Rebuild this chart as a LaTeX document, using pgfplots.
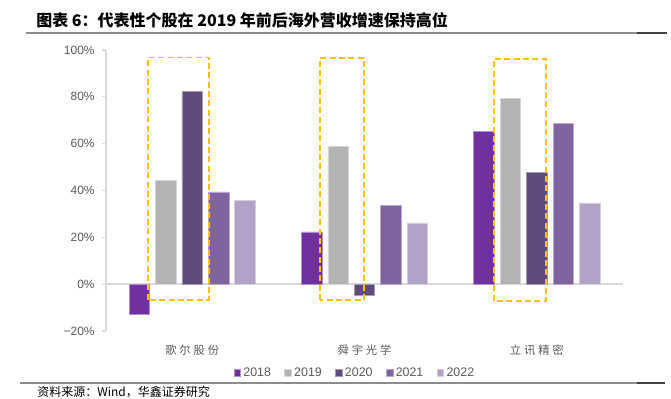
\documentclass[border=0pt]{standalone}
\usepackage{pgfplots}
\pgfplotsset{compat=1.18}
\usepackage{fontspec}
\setmainfont{Liberation Sans}
\newfontfamily\cjk{Noto Sans CJK SC}
\newfontfamily\cjklab[LetterSpace=25]{Noto Sans CJK SC}
\definecolor{cA}{HTML}{7030A0}
\definecolor{cB}{HTML}{B3B3B3}
\definecolor{cC}{HTML}{604A7B}
\definecolor{cD}{HTML}{8064A2}
\definecolor{cE}{HTML}{B3A2C7}
\definecolor{txt}{HTML}{595959}
\definecolor{axl}{HTML}{D9D9D9}
\definecolor{orn}{HTML}{FFC000}
\begin{document}
\begin{tikzpicture}
\begin{scope}[x=0.75pt,y=0.75pt]
\path[use as bounding box] (0,0) rectangle (671,399);
\node[anchor=west,inner sep=0pt] at (36,379) {\cjk\bfseries\fontsize{12}{14}\selectfont 图表 6：代表性个股在 2019 年前后海外营收增速保持高位};
\draw[color=black!45,line width=1.2pt] (26,366) -- (637,366);
\draw[color=black!75,line width=1.2pt] (637,366) -- (667,366);
\draw[color=black!45,line width=1.2pt] (20,15.7) -- (637,15.7);
\draw[color=black!75,line width=1.2pt] (637,15.7) -- (665,15.7);
\node[anchor=west,inner sep=0pt] at (37,6.5) {\cjk\fontsize{9}{10}\selectfont 资料来源：Wind，华鑫证券研究};
\end{scope}
\begin{axis}[
  at={(79.5pt,51pt)}, anchor=south west,
  scale only axis, width=387.75pt, height=210.75pt,
  xmin=-0.5, xmax=2.5, ymin=-20, ymax=100,
  axis x line=none,
  axis y line*=left,
  y axis line style={color=axl,line width=0.8pt},
  ytick={-20,0,20,40,60,80,100},
  yticklabels={−20\%,0\%,20\%,40\%,60\%,80\%,100\%},
  ytick style={color=axl,line width=0.8pt},
  tick align=outside, major tick length=3pt,
  yticklabel style={font=\fontsize{9}{10}\selectfont, color=txt, xshift=-2pt},
  clip=false,
  legend columns=5,
  legend style={draw=none, fill=none, at={(0.482,-0.149)}, anchor=center,
    font=\fontsize{9.3}{10}\selectfont, text=txt,
    /tikz/every even column/.append style={column sep=8pt},
    inner sep=0pt},
  legend image code/.code={\fill[#1] (0pt,-2.5pt) rectangle (5pt,2.5pt);},
]
\draw[color=axl,line width=1pt] (axis cs:-0.5,0) -- (axis cs:2.5,0);
\addplot[ybar, bar width=0.119, bar shift=-0.3066, fill=cA, draw=cA!55!white, line width=0.4pt] coordinates {(0,-13) (1,22.3) (2,65.1)};
\addplot[ybar, bar width=0.119, bar shift=-0.1533, fill=cB, draw=cB!55!white, line width=0.4pt] coordinates {(0,44.4) (1,59.0) (2,79.3)};
\addplot[ybar, bar width=0.119, bar shift=0, fill=cC, draw=cC!55!white, line width=0.4pt] coordinates {(0,82.2) (1,-4.6) (2,47.7)};
\addplot[ybar, bar width=0.119, bar shift=0.1533, fill=cD, draw=cD!55!white, line width=0.4pt] coordinates {(0,39.4) (1,33.8) (2,68.5)};
\addplot[ybar, bar width=0.119, bar shift=0.3066, fill=cE, draw=cE!55!white, line width=0.4pt] coordinates {(0,35.7) (1,26.2) (2,34.7)};
\legend{2018,2019,2020,2021,2022}
\draw[color=orn,line width=1.4pt,dash pattern=on 4.5pt off 2.5pt] (axis cs:-0.254,-6.6) rectangle (axis cs:0.096,96.8);
\draw[color=orn,line width=1.4pt,dash pattern=on 4.5pt off 2.5pt] (axis cs:0.742,-6.8) rectangle (axis cs:0.997,96.7);
\draw[color=orn,line width=1.4pt,dash pattern=on 4.5pt off 2.5pt] (axis cs:1.75,-7.1) rectangle (axis cs:2.055,96.0);
\node[color=txt,font=\cjklab\fontsize{8.5}{10}\selectfont] at (axis cs:0,-28) {歌尔股份};
\node[color=txt,font=\cjklab\fontsize{8.5}{10}\selectfont] at (axis cs:1,-28) {舜宇光学};
\node[color=txt,font=\cjklab\fontsize{8.5}{10}\selectfont] at (axis cs:2,-28) {立讯精密};
\end{axis}
\end{tikzpicture}
\end{document}
